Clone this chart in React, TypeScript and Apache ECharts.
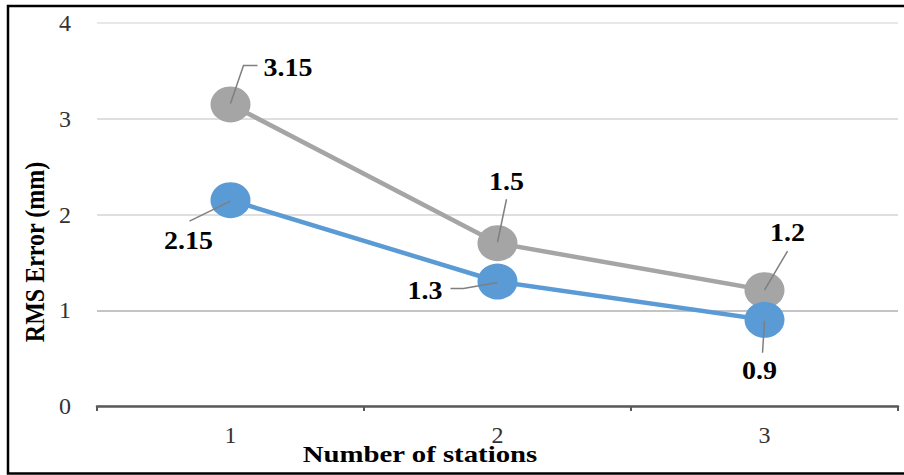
import React, { useEffect, useRef } from "react";
import * as echarts from "echarts";

const categories = ["1", "2", "3"];
const grayValues = [3.15, 1.7, 1.21];
const blueValues = [2.15, 1.3, 0.9];
const grayLabels = ["3.15", "1.5", "1.2"];
const blueLabels = ["2.15", "1.3", "0.9"];
const yTicks = [0, 1, 2, 3, 4];

// label placement relative to point (pixels): leader polyline, text position, alignment
const grayLabelLayout = [
  { line: [[0, -1], [13, -39], [27, -39]], dx: 33, dy: -37, align: "left" },
  { line: [[0, -1], [9, -44]], dx: 9, dy: -62, align: "center" },
  { line: [[0, 0], [23, -39]], dx: 23, dy: -58, align: "center" },
];
const blueLabelLayout = [
  { line: [[0, 1], [-41, 21]], dx: -42, dy: 40, align: "center" },
  { line: [[0, 1], [-34, 7], [-47, 7]], dx: -55, dy: 9, align: "right" },
  { line: [[0, 1], [-2, 33]], dx: -5, dy: 51, align: "center" },
];

const SERIF = "Liberation Serif, Times New Roman, serif";

function labelSeries(values: number[], texts: string[], layout: any[]) {
  return {
    type: "custom",
    z: 10,
    clip: false,
    encode: { x: 0, y: 1 },
    data: values.map((v, i) => [i, v]),
    renderItem: (params: any, api: any) => {
      const p = api.coord([api.value(0), api.value(1)]);
      const L = layout[params.dataIndex];
      return {
        type: "group",
        children: [
          {
            type: "polyline",
            shape: { points: L.line.map((q: number[]) => [p[0] + q[0], p[1] + q[1]]) },
            style: { stroke: "#7f7f7f", lineWidth: 1.5, fill: null },
          },
          {
            type: "text",
            x: p[0] + L.dx,
            y: p[1] + L.dy,
            scaleX: 1.12,
            style: {
              text: texts[params.dataIndex],
              x: 0,
              y: 0,
              align: L.align,
              verticalAlign: "middle",
              font: `bold 25px ${SERIF}`,
              fill: "#000",
            },
          },
        ],
      };
    },
  };
}

export default function App() {
  const ref = useRef<HTMLDivElement>(null);
  useEffect(() => {
    const chart = echarts.init(ref.current!, null, { renderer: "svg" });
    chart.setOption({
      animation: false,
      backgroundColor: "#ffffff",
      grid: { left: 97, right: 6, top: 23, bottom: 69 },
      xAxis: {
        type: "category",
        data: categories,
        boundaryGap: true,
        axisLine: { show: true, lineStyle: { color: "#595959", width: 2.5 } },
        axisTick: { show: true, length: 5, lineStyle: { color: "#595959", width: 2 } },
        axisLabel: { margin: 17, fontSize: 24, fontFamily: SERIF, color: "#333" },
        splitLine: { show: false },
      },
      yAxis: {
        type: "value",
        min: yTicks[0],
        max: yTicks[yTicks.length - 1],
        interval: 1,
        axisLine: { show: false },
        axisTick: { show: false },
        axisLabel: { margin: 26, fontSize: 24, fontFamily: SERIF, color: "#333" },
        splitLine: {
          show: true,
          lineStyle: { color: ["#d9d9d9", "#b0b0b0", "#d4d4d4", "#d4d4d4", "#e0e0e0"], width: 1.5 },
        },
      },
      series: [
        {
          type: "line",
          data: grayValues,
          symbol: "circle",
          symbolSize: [40, 36],
          lineStyle: { color: "#A5A5A5", width: 4.5 },
          itemStyle: { color: "#A5A5A5" },
          z: 2,
        },
        {
          type: "line",
          data: blueValues,
          symbol: "circle",
          symbolSize: [40, 36],
          lineStyle: { color: "#5B9BD5", width: 4.5 },
          itemStyle: { color: "#5B9BD5" },
          z: 3,
        },
        labelSeries(grayValues, grayLabels, grayLabelLayout),
        labelSeries(blueValues, blueLabels, blueLabelLayout),
      ],
      graphic: [
        {
          type: "rect",
          shape: { x: 8, y: 6, width: 1000, height: 467.5 },
          style: { stroke: "#000", lineWidth: 2.5, fill: null },
          z: 100,
        },
        {
          type: "text",
          x: 420,
          y: 454,
          scaleX: 1.2,
          style: {
            text: "Number of stations",
            x: 0,
            y: 0,
            align: "center",
            verticalAlign: "middle",
            font: `bold 24px ${SERIF}`,
            fill: "#000",
          },
        },
        {
          type: "text",
          x: 35,
          y: 252,
          rotation: Math.PI / 2,
          scaleY: 1.15,
          style: {
            text: "RMS Error (mm)",
            x: 0,
            y: 0,
            align: "center",
            verticalAlign: "middle",
            font: `bold 24px ${SERIF}`,
            fill: "#000",
          },
        },
      ],
    });
    return () => chart.dispose();
  }, []);
  return (
    <div
      ref={ref}
      style={{ position: "fixed", left: 0, top: 0, width: 904, height: 475 }}
    />
  );
}
